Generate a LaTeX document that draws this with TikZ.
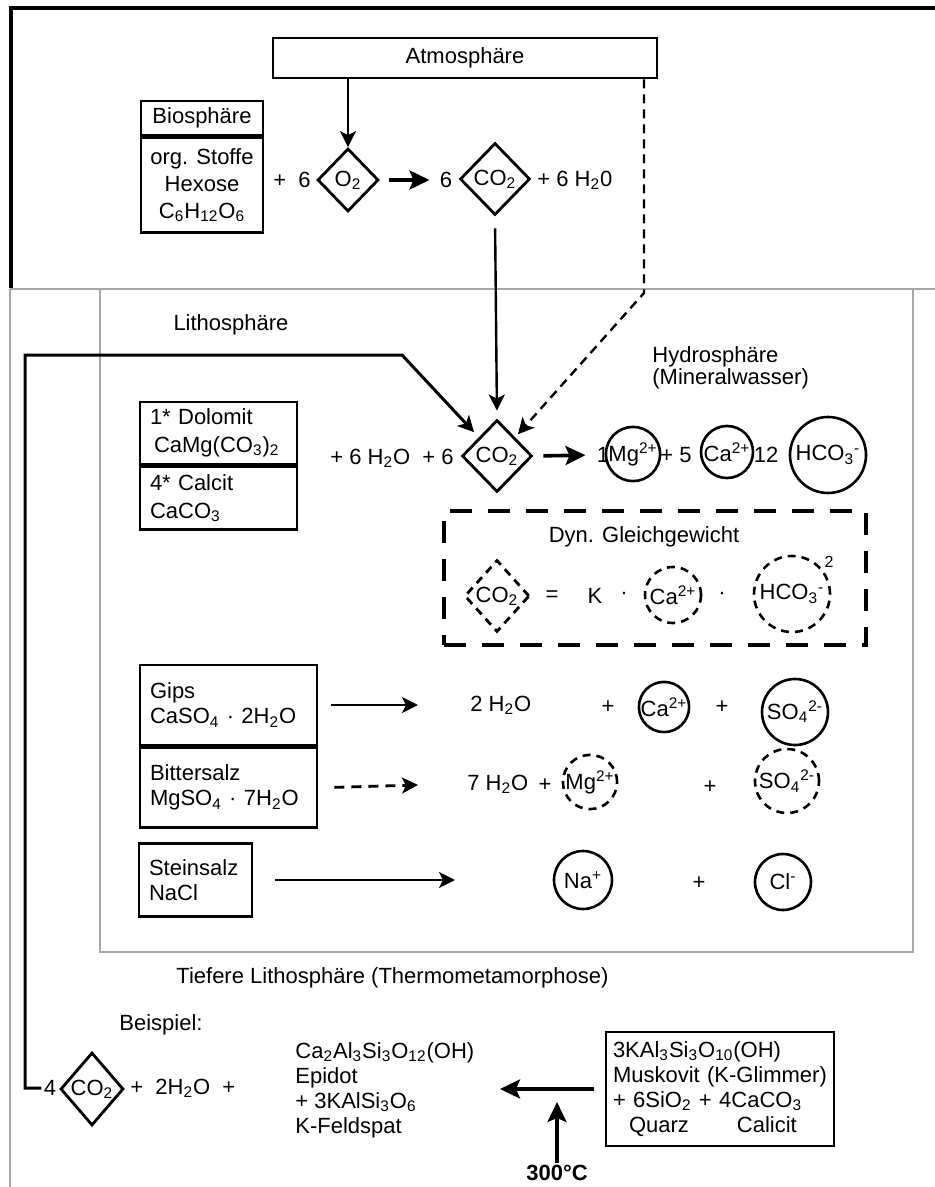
\documentclass[tikz,border=0pt]{standalone}
\usepackage{fontspec}
\setmainfont{Liberation Sans}
\usetikzlibrary{shapes.geometric,arrows.meta,positioning}

\begin{document}
\begin{tikzpicture}[x=0.5pt,y=-0.5pt,
    font=\fontsize{11}{13}\selectfont,
    box/.style={draw,line width=1.4pt,inner sep=3pt},
    diam/.style={diamond,draw,line width=1.4pt,inner sep=0pt},
    ion/.style={circle,draw,line width=1.3pt,inner sep=0pt},
    dion/.style={ion,dash pattern=on 4pt off 3pt},
    txt/.style={inner sep=1pt},
    arr/.style={-{Stealth[length=8pt,width=8pt,inset=2pt]},line width=1.2pt},
    bigarr/.style={-{Stealth[length=10pt,width=9.5pt,inset=2pt]},line width=1.8pt},
    sep/.style={draw=black!35,line width=0.7pt}]

\useasboundingbox (0,0) rectangle (935,1187);

% frames
\draw[line width=1.6pt] (935,8) -- (11,8) -- (11,288);
\draw[sep] (10,289) -- (935,289);
\draw[sep] (10,289) -- (10,1187);
\draw[sep] (100,289) rectangle (913,952);

% Atmosphaere / Biosphaere
\node[box,minimum width=192pt,minimum height=20pt] (atmo) at (465,58) {Atmosphäre};
\node[box,minimum width=61pt,minimum height=17pt] (bioh) at (202,118) {Biosphäre};
\node[box,minimum width=61pt,minimum height=47.5pt,align=center,
      font=\fontsize{11}{13.5}\selectfont,below=0pt of bioh] (bio)
      {org. Stoffe\\Hexose\\C\textsubscript{6}H\textsubscript{12}O\textsubscript{6}};
\node[txt] (plus6) at (292,180) {+ \ 6};
\node[diam,minimum width=30.5pt,minimum height=31.5pt] (o2) at (348,180) {O\textsubscript{2}};
\node[txt] (six) at (446,180) {6};
\node[diam,minimum width=35pt,minimum height=36pt] (co2a) at (495,179) {CO\textsubscript{2}};
\node[txt,anchor=west] (h2oa) at (535,180) {+ 6 H\textsubscript{2}0};

\draw[arr] (atmo.south -| o2) -- (o2.north);
\draw[bigarr,shorten <=4.5pt,shorten >=4pt] (o2.east) -- (six.west);

% Lithosphaere / Hydrosphaere
\node[txt] (litho) at (231,325) {Lithosphäre};
\node[txt,anchor=west,align=left,font=\fontsize{11}{11}\selectfont] (hydro) at (650,368)
      {Hydrosphäre\\(Mineralwasser)};

\node[box,text width=68.5pt,inner xsep=5pt,minimum height=31pt,align=left,
      font=\fontsize{11}{14}\selectfont] (dolo) at (218.5,433)
      {1* Dolomit\\\hspace*{2pt}CaMg(CO\textsubscript{3})\textsubscript{2}};
\node[box,text width=68.5pt,inner xsep=5pt,minimum height=31.5pt,align=left,
      font=\fontsize{11}{14}\selectfont,below=0pt of dolo] (calc)
      {4* Calcit\\CaCO\textsubscript{3}};

\node[txt] (h2om) at (392,458) {+ 6 H\textsubscript{2}O \ + 6};
\node[diam,minimum width=35pt,minimum height=36pt] (co2m) at (497,456) {CO\textsubscript{2}};
\node[txt] (one) at (603,455) {1};
\node[ion,minimum size=24pt] (mg) at (633,454) {Mg\textsuperscript{2+}};
\node[txt] (plus5) at (676,455) {+ 5};
\node[ion,minimum size=26pt] (ca) at (727,452) {Ca\textsuperscript{2+}};
\node[txt] (twelve) at (766,455) {12};
\node[ion,minimum size=38pt] (hco) at (828,455) {HCO\textsubscript{3}\textsuperscript{-}};

\draw[bigarr,shorten <=5pt,shorten >=4.5pt] (co2m.east) -- (one.west);
\draw[arr,shorten <=6pt,shorten >=4pt] (co2a.south) -- (co2m.north);

\coordinate (dk) at (644,293);
\draw[arr,dash pattern=on 4.5pt off 3pt,shorten >=2pt] (atmo.south -| dk) -- (dk) -- (co2m.north east);

% Dyn. Gleichgewicht
\node[draw,line width=1.6pt,dash pattern=on 11pt off 8pt,minimum width=211pt,minimum height=67pt] (dyn) at (655,578) {};
\node[txt] (dyntitle) at (644,537) {Dyn. Gleichgewicht};
\node[diam,dash pattern=on 4pt off 3pt,minimum width=32.5pt,minimum height=36pt] (co2d) at (497,596) {CO\textsubscript{2}};
\node[txt] (eq) at (552,596) {=};
\node[txt] (kk) at (595,596) {K};
\node[txt] (dota) at (624,596) {·};
\node[dion,minimum size=28pt] (cad) at (673,595) {Ca\textsuperscript{2+}};
\node[txt] (dotb) at (722,596) {·};
\node[dion,minimum size=38pt] (hcod) at (792,594) {HCO\textsubscript{3}\textsuperscript{-}};
\node[txt,font=\fontsize{8}{9}\selectfont] (sq) at (829,562) {2};

% Salze
\node[box,text width=78.5pt,inner xsep=5pt,minimum height=40pt,align=left,
      font=\fontsize{11}{12.5}\selectfont] (gips) at (228.5,705)
      {Gips\\CaSO\textsubscript{4} · 2H\textsubscript{2}O};
\node[box,text width=78.5pt,inner xsep=5pt,minimum height=40pt,align=left,
      font=\fontsize{11}{12.5}\selectfont,below=0pt of gips] (bitter)
      {Bittersalz\\MgSO\textsubscript{4} · 7H\textsubscript{2}O};
\node[box,text width=46.5pt,inner xsep=5pt,minimum height=36.5pt,align=left,
      font=\fontsize{11}{12.5}\selectfont] (stein) at (195.5,880)
      {Steinsalz\\NaCl};

\coordinate (ga) at (418,705);
\coordinate (ba) at (418,785);
\coordinate (sa) at (455,880);
\draw[arr,line width=1.4pt,shorten <=6.5pt] (gips.east) -- (ga);
\draw[arr,line width=1.4pt,dash pattern=on 5pt off 3.5pt,shorten <=8pt] (bitter.east) -- (ba);
\draw[arr,line width=1.4pt,shorten <=11pt] (stein.east) -- (sa);

\node[txt,anchor=west] (h2og) at (468,705) {2 H\textsubscript{2}O};
\node[txt] (pga) at (608,707) {+};
\node[ion,minimum size=25pt] (cag) at (664,707) {Ca\textsuperscript{2+}};
\node[txt] (pgb) at (722,707) {+};
\node[ion,minimum size=33pt] (so4g) at (795,712) {SO\textsubscript{4}\textsuperscript{2-}};

\node[txt,anchor=west] (h2ob) at (465,784) {7 H\textsubscript{2}O};
\node[txt] (pba) at (545,785) {+};
\node[dion,minimum size=27pt] (mgb) at (590,782) {Mg\textsuperscript{2+}};
\node[txt] (pbb) at (710,787) {+};
\node[dion,minimum size=32pt] (so4b) at (787,781) {SO\textsubscript{4}\textsuperscript{2-}};

\node[ion,minimum size=29pt] (na) at (583,880) {Na\textsuperscript{+}};
\node[txt] (psa) at (699,883) {+};
\node[ion,minimum size=28pt] (cl) at (783,882) {Cl\textsuperscript{-}};

% Tiefere Lithosphaere
\node[txt,anchor=west] (tief) at (174,978) {Tiefere Lithosphäre (Thermometamorphose)};
\node[txt,anchor=west] (beisp) at (117,1025) {Beispiel:};
\node[txt] (four) at (50,1088) {4};
\node[diam,minimum width=31.5pt,minimum height=36.5pt] (co2t) at (92,1089) {CO\textsubscript{2}};
\node[txt,anchor=west] (h2ot) at (128,1088) {+ \ 2H\textsubscript{2}O \ +};
\node[txt,anchor=west,align=left,font=\fontsize{11}{12.5}\selectfont] (epi) at (293,1090)
      {Ca\textsubscript{2}Al\textsubscript{3}Si\textsubscript{3}O\textsubscript{12}(OH)\\Epidot\\%
       + 3KAlSi\textsubscript{3}O\textsubscript{6}\\K-Feldspat};
\node[box,text width=107pt,inner xsep=3.5pt,minimum height=57pt,align=left,
      font=\fontsize{11}{12.5}\selectfont] (musk) at (720,1089)
      {3KAl\textsubscript{3}Si\textsubscript{3}O\textsubscript{10}(OH)\\Muskovit (K-Glimmer)\\%
       + 6SiO\textsubscript{2} + 4CaCO\textsubscript{3}\\\hspace*{8pt}Quarz\hspace{24pt}Calicit};
\node[txt,font=\fontsize{11}{13}\selectfont\bfseries] (temp) at (557,1173) {300°C};

\coordinate (ma) at (500,1089);
\coordinate (ta) at (557,1102);
\draw[bigarr,line width=1.6pt,shorten <=5.5pt] (musk.west) -- (ma);
\draw[bigarr,line width=1.6pt] (temp.north) -- (ta);

% CO2 aus der Tiefe
\coordinate (lt) at (25,355);
\coordinate (lk) at (402,355);
\draw[arr,line width=1.5pt,shorten >=3.5pt] (four.west) -| (lt) -- (lk) -- (co2m.north west);
\end{tikzpicture}
\end{document}
